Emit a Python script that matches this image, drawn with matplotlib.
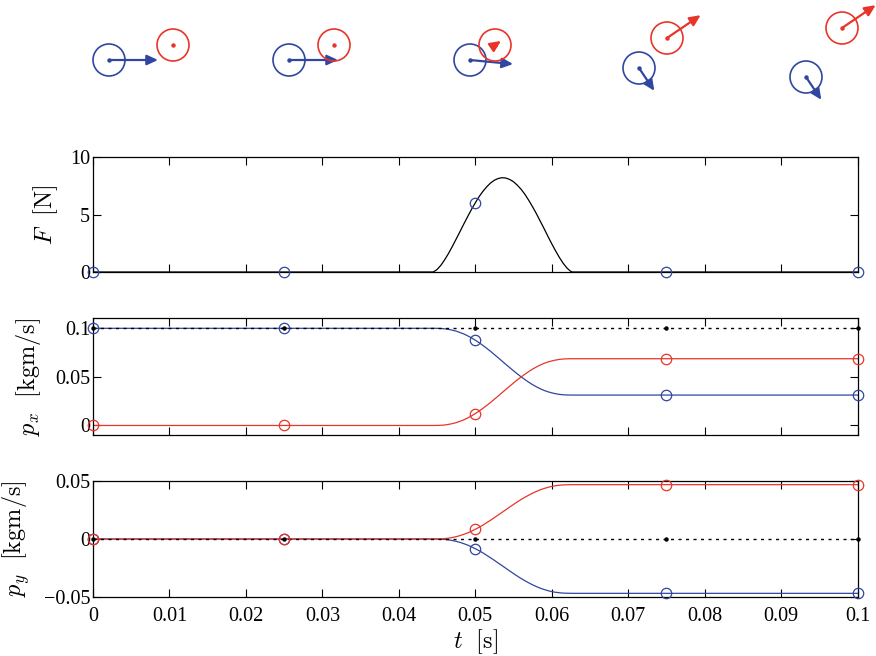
import numpy as np
import matplotlib
matplotlib.use('Agg')
import matplotlib.pyplot as plt
from matplotlib.patches import Circle, FancyArrowPatch

plt.rcParams['font.family'] = ['Liberation Serif', 'DejaVu Serif']
plt.rcParams['mathtext.fontset'] = 'cm'

BLUE = '#3046a0'
RED = '#e8352a'

# --- time series (collision window) ---
t = [0.0, 0.0445, 0.045, 0.0455, 0.046, 0.0465, 0.047, 0.0475, 0.048, 0.0485, 0.049,
     0.0495, 0.050, 0.0505, 0.051, 0.0515, 0.052, 0.0525, 0.053, 0.0535, 0.054,
     0.0545, 0.055, 0.0555, 0.056, 0.0565, 0.057, 0.0575, 0.058, 0.0585, 0.059,
     0.0595, 0.060, 0.0605, 0.061, 0.0615, 0.062, 0.0625, 0.0627, 0.1]

F = [0, 0, 0.21, 0.58, 1.06, 1.61, 2.22, 2.86, 3.51, 4.17, 4.81,
     5.43, 6.01, 6.55, 7.01, 7.41, 7.74, 7.98, 8.13, 8.20, 8.17,
     8.05, 7.85, 7.55, 7.19, 6.75, 6.23, 5.67, 5.07, 4.42, 3.78,
     3.11, 2.46, 1.85, 1.27, 0.76, 0.34, 0.05, 0, 0]

px_red = [0, 0, 0.00004, 0.0002, 0.0005, 0.0011, 0.0019, 0.0029, 0.0043, 0.0058, 0.0077,
          0.0098, 0.0122, 0.0148, 0.0176, 0.0206, 0.0237, 0.0270, 0.0303, 0.0337, 0.0371,
          0.0404, 0.0437, 0.0469, 0.0499, 0.0528, 0.0555, 0.0580, 0.0602, 0.0622, 0.0639,
          0.0653, 0.0664, 0.0673, 0.0680, 0.0684, 0.0686, 0.0687, 0.0687, 0.0687]

px_blue = [0.1, 0.1, 0.09996, 0.0998, 0.0995, 0.0989, 0.0981, 0.0971, 0.0957, 0.0942, 0.0923,
           0.0902, 0.0878, 0.0852, 0.0824, 0.0794, 0.0763, 0.0730, 0.0697, 0.0663, 0.0629,
           0.0596, 0.0563, 0.0531, 0.0501, 0.0472, 0.0445, 0.0420, 0.0398, 0.0378, 0.0361,
           0.0347, 0.0336, 0.0327, 0.0320, 0.0316, 0.0314, 0.0313, 0.0313, 0.0313]

py_red = [0, 0, 0.00003, 0.0001, 0.0004, 0.0007, 0.0013, 0.0020, 0.0029, 0.0040, 0.0052,
          0.0067, 0.0083, 0.0100, 0.0119, 0.0140, 0.0161, 0.0183, 0.0206, 0.0228, 0.0251,
          0.0274, 0.0296, 0.0318, 0.0339, 0.0358, 0.0376, 0.0393, 0.0408, 0.0422, 0.0433,
          0.0443, 0.0451, 0.0457, 0.0461, 0.0464, 0.0465, 0.0466, 0.0466, 0.0466]

py_blue = [0, 0, -0.00003, -0.0001, -0.0004, -0.0007, -0.0013, -0.0020, -0.0029, -0.0040, -0.0052,
           -0.0067, -0.0083, -0.0100, -0.0119, -0.0140, -0.0161, -0.0183, -0.0206, -0.0228, -0.0251,
           -0.0274, -0.0296, -0.0318, -0.0339, -0.0358, -0.0376, -0.0393, -0.0408, -0.0422, -0.0433,
           -0.0443, -0.0451, -0.0457, -0.0461, -0.0464, -0.0465, -0.0466, -0.0466, -0.0466]

t_total = [0.0, 0.1]
px_total = [0.1, 0.1]
py_total = [0.0, 0.0]

# --- snapshot samples ---
t_samp = [0, 0.025, 0.05, 0.075, 0.1]
F_samp = [0, 0, 6.0, 0, 0]
px_blue_samp = [0.1, 0.1, 0.0878, 0.0313, 0.0313]
px_red_samp = [0, 0, 0.0122, 0.0687, 0.0687]
py_blue_samp = [0, 0, -0.0083, -0.0466, -0.0466]
py_red_samp = [0, 0, 0.0083, 0.0466, 0.0466]
px_tot_samp = [0.1, 0.1, 0.1, 0.1, 0.1]
py_tot_samp = [0, 0, 0, 0, 0]

# ball positions in the sketch (sketch units, y downward)
blue_x = [109, 289, 470, 639, 806]
blue_y = [60, 60, 60, 68, 77]
red_x = [173, 334, 495, 667, 842]
red_y = [45, 45, 45, 38, 28]
ball_r = 16
arrow_scale = 490  # sketch units per kg m/s

fig = plt.figure(figsize=(8.76, 6.56), dpi=100)

# --- top sketch ---
axs = fig.add_axes([0, 1 - 120 / 656, 1, 120 / 656])
axs.set_xlim(0, 876)
axs.set_ylim(120, 0)
axs.axis('off')
for i in range(len(blue_x)):
    for cx, cy, mx, my, col in [(blue_x[i], blue_y[i], px_blue_samp[i], py_blue_samp[i], BLUE),
                                (red_x[i], red_y[i], px_red_samp[i], py_red_samp[i], RED)]:
        axs.add_patch(Circle((cx, cy), ball_r, fill=False, ec=col, lw=1.2, clip_on=False))
        axs.plot(cx, cy, 'o', color=col, ms=2.2, clip_on=False)
        if abs(mx) + abs(my) > 0:
            arr = FancyArrowPatch((cx, cy), (cx + mx * arrow_scale, cy - my * arrow_scale),
                                  arrowstyle='-|>,head_length=0.65,head_width=0.3',
                                  mutation_scale=10, lw=1.6, color=col,
                                  shrinkA=0, shrinkB=0, clip_on=False)
            axs.add_patch(arr)

W = 764.5 / 876
L = 93 / 876
ax1 = fig.add_axes([L, (656 - 272) / 656, W, 115 / 656])
ax2 = fig.add_axes([L, (656 - 435) / 656, W, 116.7 / 656])
ax3 = fig.add_axes([L, (656 - 597.3) / 656, W, 116.6 / 656])

circ = dict(marker='o', ms=7.5, mfc='none', ls='none', mew=0.9, clip_on=False, zorder=5)
dots = dict(marker='o', ms=2.2, color='black', ls='none', clip_on=False, zorder=6)
dotted = dict(color='black', lw=1.0, ls=(0, (2.2, 3.2)), zorder=4)

# F
ax1.plot(t, F, color='black', lw=0.9)
ax1.plot(t_samp, F_samp, mec=BLUE, **circ)
ax1.set_ylim(0, 10)
ax1.set_yticks([0, 5, 10])
ax1.set_yticklabels(['0', '5', '10'])

# p_x
ax2.plot(t, px_blue, color=BLUE, lw=0.9)
ax2.plot(t, px_red, color=RED, lw=0.9)
ax2.plot(t_total, px_total, **dotted)
ax2.plot(t_samp, px_blue_samp, mec=BLUE, **circ)
ax2.plot(t_samp, px_red_samp, mec=RED, **circ)
ax2.plot(t_samp, px_tot_samp, **dots)
ax2.set_ylim(-0.0098, 0.1103)
ax2.set_yticks([0, 0.05, 0.1])
ax2.set_yticklabels(['0', '0.05', '0.1'])

# p_y
ax3.plot(t, py_blue, color=BLUE, lw=0.9)
ax3.plot(t, py_red, color=RED, lw=0.9)
ax3.plot(t_total, py_total, **dotted)
ax3.plot(t_samp, py_blue_samp, mec=BLUE, **circ)
ax3.plot(t_samp, py_red_samp, mec=RED, **circ)
ax3.plot(t_samp, py_tot_samp, **dots)
ax3.set_ylim(-0.05, 0.05)
ax3.set_yticks([-0.05, 0, 0.05])
ax3.set_yticklabels(['\u22120.05', '0', '0.05'])

xt = [0, 0.01, 0.02, 0.03, 0.04, 0.05, 0.06, 0.07, 0.08, 0.09, 0.1]
for ax in (ax1, ax2, ax3):
    ax.set_xlim(0, 0.1)
    ax.set_xticks(xt)
    ax.tick_params(direction='in', length=6, width=0.8, top=True, right=True,
                   labelsize=14.5, pad=2)
    ax.tick_params(axis='x', pad=7)
    for s in ax.spines.values():
        s.set_linewidth(0.9)
ax1.set_xticklabels([])
ax2.set_xticklabels([])
ax3.set_xticklabels(['0', '0.01', '0.02', '0.03', '0.04', '0.05', '0.06', '0.07', '0.08', '0.09', '0.1'])

ax1.set_ylabel(r'$F\ \ [\mathrm{N}]$', fontsize=17.5)
ax2.set_ylabel(r'$p_x\ \ [\mathrm{kgm/s}]$', fontsize=17.5)
ax3.set_ylabel(r'$p_y\ \ [\mathrm{kgm/s}]$', fontsize=17.5)
ax1.yaxis.set_label_coords(-0.043, 0.5)
ax2.yaxis.set_label_coords(-0.066, 0.5)
ax3.yaxis.set_label_coords(-0.080, 0.5)
ax3.set_xlabel(r'$t\ \ [\mathrm{s}]$', fontsize=17.5, labelpad=1)

fig.savefig('out.png', dpi=100)
